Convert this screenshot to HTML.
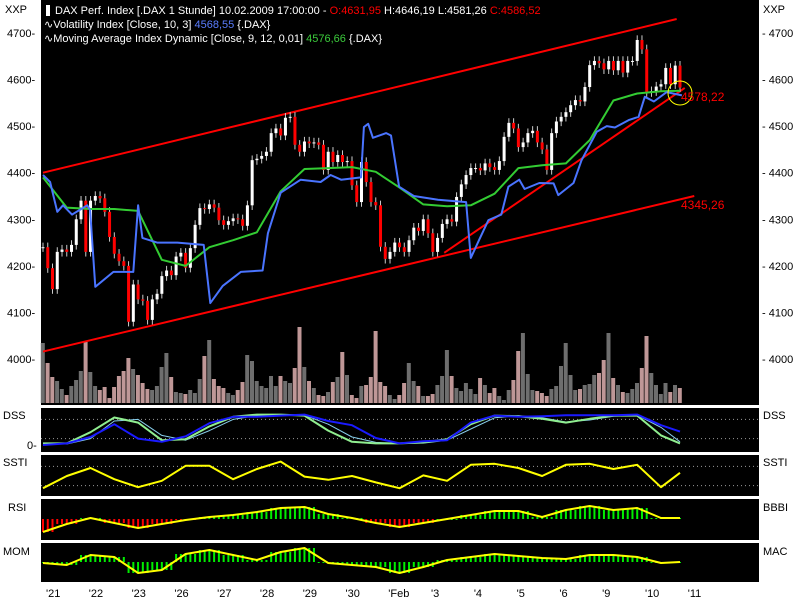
<!DOCTYPE html>
<html><head><meta charset="utf-8"><style>
body{margin:0;background:#fff;width:800px;height:600px;overflow:hidden;font-family:"Liberation Sans",sans-serif}
svg{display:block}
</style></head><body>
<svg id="c" width="800" height="600" xmlns="http://www.w3.org/2000/svg" font-family="Liberation Sans, sans-serif" font-size="11">
<rect x="0" y="0" width="800" height="600" fill="#fff"/>
<rect x="41" y="0" width="718" height="405" fill="#000"/>
<rect x="41" y="408" width="718" height="44" fill="#000"/>
<rect x="41" y="455" width="718" height="41" fill="#000"/>
<rect x="41" y="499" width="718" height="41" fill="#000"/>
<rect x="41" y="543" width="718" height="39" fill="#000"/>
<g id="g"></g>
<g fill="#fff">
<rect x="46" y="5" width="4" height="11" fill="#fff"/>
<text x="55" y="14">DAX Perf. Index [.DAX  1 Stunde] 10.02.2009 17:00:00 - <tspan fill="#ff0000">O:4631,95</tspan> H:4646,19 L:4581,26 <tspan fill="#ff0000">C:4586,52</tspan></text>
<text x="44" y="28">∿Volatility Index [Close, 10, 3] <tspan fill="#5a7dff">4568,55</tspan> {.DAX}</text>
<text x="44" y="42">∿Moving Average Index Dynamic [Close, 9, 12, 0,01] <tspan fill="#3ccc3c">4576,66</tspan> {.DAX}</text>
</g>
<g fill="#000">
<text x="5" y="13">XXP</text>
<text x="763" y="13">XXP</text>
<text x="3" y="419">DSS</text>
<text x="27" y="449">0-</text>
<text x="763" y="419">DSS</text>
<text x="3" y="466">SSTI</text>
<text x="763" y="466">SSTI</text>
<text x="8" y="511">RSI</text>
<text x="763" y="511">BBBI</text>
<text x="3" y="555">MOM</text>
<text x="763" y="555">MAC</text>
</g>
</svg>
<script>
const closes=[4240,4195,4150,4230,4235,4230,4245,4300,4340,4230,4340,4350,4345,4316,4262,4226,4210,4200,4080,4160,4128,4125,4084,4128,4140,4178,4190,4180,4220,4228,4196,4238,4288,4324,4322,4332,4325,4298,4288,4296,4302,4300,4286,4330,4427,4430,4436,4445,4485,4495,4480,4518,4520,4460,4445,4467,4463,4465,4460,4406,4445,4423,4438,4423,4425,4373,4337,4423,4380,4337,4330,4241,4215,4230,4250,4240,4230,4255,4282,4275,4300,4270,4230,4260,4290,4300,4295,4348,4375,4395,4410,4410,4405,4420,4412,4406,4425,4477,4507,4495,4455,4465,4485,4490,4465,4450,4406,4485,4510,4520,4530,4545,4556,4553,4584,4631,4640,4635,4622,4640,4620,4640,4615,4640,4640,4685,4665,4573,4575,4585,4590,4625,4590,4630,4583];
const volumes=[60,40,26,22,14,8,17,23,32,61,31,17,13,16,5,16,27,32,45,34,28,20,14,13,17,36,50,26,11,10,9,13,10,24,47,63,24,17,15,10,8,13,21,48,42,22,17,15,27,17,27,22,20,35,76,36,22,15,8,7,11,21,26,51,28,8,5,17,18,26,72,21,17,8,4,8,20,40,22,17,7,7,9,18,27,53,27,15,12,20,14,9,25,18,10,15,7,3,13,23,52,70,29,13,12,10,7,14,17,37,60,28,13,14,18,19,28,30,43,70,25,18,11,10,14,20,35,67,30,18,9,20,11,18,15];
const gridIdx=[0,5,10,15,20,25,30,35,40,45,50,55,60,65,70,75,80,85,90,95,100,105,110,115,120,125,130,134];
const maVals=[4390,4325,4322,4322,4318,4213,4200,4240,4255,4272,4360,4408,4410,4412,4402,4368,4332,4328,4330,4355,4410,4416,4420,4470,4555,4570,4575,4576];
const volIdxIdx=[0,1.5,3,4.2,6.1,9.3,9.9,11,14.8,19,20,20.9,24,28.3,33.8,35.2,37.8,41.6,46.2,47.3,50,54.2,58.4,60.5,62.7,66.9,67.5,68.4,69.4,72.2,73.2,74.9,78,83.1,89,90,91.8,93.7,96.4,97.9,100.2,101.3,104.4,107.4,108.4,111.6,113.3,116.5,118.6,120.3,123.2,125.3,126.6,128.5,131.2,134.4];
const volIdxVals=[4395,4380,4316,4330,4310,4330,4320,4155,4187,4187,4330,4260,4250,4250,4245,4120,4157,4187,4190,4270,4357,4385,4380,4395,4385,4390,4498,4505,4475,4485,4480,4370,4350,4342,4337,4217,4257,4298,4310,4370,4385,4365,4378,4377,4352,4378,4427,4488,4500,4497,4513,4520,4563,4553,4573,4566];
const chanUpper=[[0,4400],[133.3,4730]];
const chanLower=[[0,4016],[137,4350]];
const trendLine=[[84.4,4228],[135,4582]];
const priceTicks=[4700,4600,4500,4400,4300,4200,4100,4000];
const dayLabels=["21","22","23","26","27","28","29","30","Feb","3","4","5","6","9","10","11"];
const dayStartIdx=[1,10,19,28,37,46,55,64,73,82,91,100,109,118,127,136];
const dssGreen=[5,5,40,86,70,15,18,58,88,95,95,92,45,10,5,5,8,18,65,92,90,82,70,82,92,92,30,5];
const dssBlue=[0,5,25,65,20,10,27,68,88,88,92,95,75,62,22,5,12,15,70,92,88,90,93,93,93,95,62,42];
const dssSignal=[5,3,20,75,80,30,15,45,80,92,95,93,65,25,8,5,6,15,50,85,92,85,72,78,90,93,55,10];
const sstiVals=[12,50,75,40,15,35,82,82,40,72,95,48,38,50,30,12,52,35,85,88,75,50,85,88,72,85,15,60];
const rsiVals=[-13,-5,1,-4,-9,-5,-1,2,4,7,11,12,5,1,-4,-8,-4,0,4,8,8,2,9,13,9,11,1,1];
const momVals=[-1,-3,7,5,-11,-8,8,12,7,2,10,14,-1,-3,-5,-11,-5,2,5,8,6,4,3,7,7,5,-1,0];

const NS="http://www.w3.org/2000/svg";
const G=document.getElementById('g');
const step=(680-43)/134;
function xi(i){return 43+i*step;}
function py(p){return 33+(4700-p)*326/700;}
function volY(v){return 403-v;}
function dssY(v){return 445-v*0.32;}
function sstiY(v){return 492-v*0.32;}
function rsiY(v){return 519-v;}
function momY(v){return 562-v;}
function mk(tag,attrs){const e=document.createElementNS(NS,tag);for(const k in attrs)e.setAttribute(k,attrs[k]);G.appendChild(e);return e;}
function poly(xs,ys,stroke,w,name){
  const pts=xs.map((x,k)=>x.toFixed(1)+','+ys[k].toFixed(1)).join(' ');
  const e=mk('polyline',{points:pts,fill:'none',stroke:stroke,'stroke-width':w,'stroke-linejoin':'round'});
  
  
  return e;
}
function dotted(y,name){
  const e=mk('line',{x1:41,x2:759,y1:y,y2:y,stroke:'#999','stroke-width':1,'stroke-dasharray':'1,3'});
  
  
}
// volume
volumes.forEach((v,i)=>{
  const up=i===0?true:closes[i]>=closes[i-1];
  const r=mk('rect',{x:(xi(i)-2.2).toFixed(1),y:volY(v),width:4,height:v,fill:up?'#6e6e6e':'#bf9797'});
  
  
});
// channel lines
[[chanUpper,'channel-upper'],[chanLower,'channel-lower'],[trendLine,'trend-line']].forEach(([l,n])=>{
  const e=mk('line',{x1:xi(l[0][0]),y1:py(l[0][1]),x2:xi(l[1][0]),y2:py(l[1][1]),stroke:'#ff0000','stroke-width':2});
  
  
});
// candles
closes.forEach((c,i)=>{
  const o=i===0?c:closes[i-1];
  const up=c>=o;
  const x=xi(i);
  const hi=Math.max(o,c)+10, lo=Math.min(o,c)-10;
  const w=mk('line',{x1:x,x2:x,y1:py(hi),y2:py(lo),stroke:'#cccccc','stroke-width':1});
  
  
  const top=py(Math.max(o,c)),bot=py(Math.min(o,c));
  const b=mk('rect',{x:x-1.5,y:top,width:3,height:Math.max(1,bot-top),fill:up?'#ffffff':'#ff0000'});
  
  
});
// indicator lines
poly(gridIdx.map(xi),maVals.map(py),'#33cc33',2,'moving-average-line');
poly(volIdxIdx.map(xi),volIdxVals.map(py),'#4a74ff',2,'volatility-line');
// marker
const circ=mk('circle',{cx:680,cy:93,r:12,fill:'none',stroke:'#ffff00','stroke-width':1});


const l1=mk('text',{x:681,y:101,fill:'#ff0000','font-size':12});l1.textContent='4578,22';


const l2=mk('text',{x:681,y:209,fill:'#ff0000','font-size':12});l2.textContent='4345,26';


// price axis
priceTicks.forEach(p=>{
  const y=py(p);
  const a=mk('text',{x:7,y:y+4,fill:'#000'});a.textContent=p+'-';
  
  
  const b=mk('text',{x:762,y:y+4,fill:'#000'});b.textContent='- '+p;
  
  
});
// DSS
dotted(dssY(80),'dss-level-80');dotted(dssY(20),'dss-level-20');
poly(gridIdx.map(xi),dssSignal.map(dssY),'#87ceeb',1,'dss-signal-line');
poly(gridIdx.map(xi),dssGreen.map(dssY),'#90ee90',2,'dss-main-line');
poly(gridIdx.map(xi),dssBlue.map(dssY),'#1a1aff',2,'dss-blue-line');
// SSTI
dotted(sstiY(80),'ssti-level-80');dotted(sstiY(20),'ssti-level-20');
poly(gridIdx.map(xi),sstiVals.map(sstiY),'#ffff00',2,'ssti-line');
// histograms
function nearest(arr,i){let best=0,bd=1e9;gridIdx.forEach((g,k)=>{const d=Math.abs(g-i);if(d<bd){bd=d;best=k;}});return arr[best];}
for(let i=0;i<closes.length;i++){
  const v=nearest(rsiVals,i);
  const r=mk('rect',{x:xi(i)-1,y:Math.min(rsiY(0),rsiY(v)),width:2,height:Math.max(1,Math.abs(v)),fill:v>=0?'#00ee00':'#ff0000'});
  
  
  const m=nearest(momVals,i);
  const q=mk('rect',{x:xi(i)-1,y:Math.min(momY(0),momY(m)),width:2,height:Math.max(1,Math.abs(m)),fill:'#00ee00'});
  
  
}
poly(gridIdx.map(xi),rsiVals.map(rsiY),'#ffff00',2,'rsi-line');
poly(gridIdx.map(xi),momVals.map(momY),'#ffff00',2,'mom-line');
// x axis
dayLabels.forEach((d,k)=>{
  const x=xi(dayStartIdx[k]-1)+3;
  const t=mk('text',{x:x,y:597,fill:'#000'});t.textContent="'"+d;
  
  
});
</script>
</body></html>
